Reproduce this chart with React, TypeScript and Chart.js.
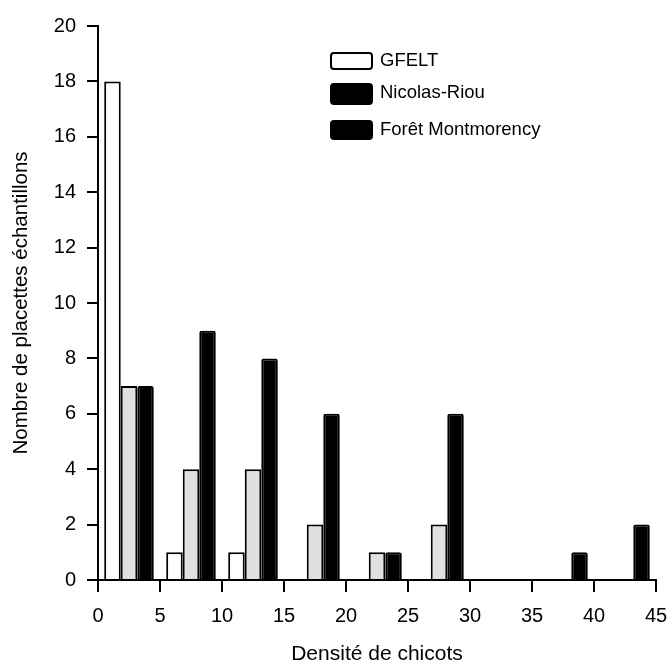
import React, { useEffect, useRef } from 'react';
import { Chart, registerables } from 'chart.js';

Chart.register(...registerables);

// ---- data ----
const binCenters = [2.5, 7.5, 12.5, 17.5, 22.5, 27.5, 32.5, 37.5, 42.5];
const seriesNames = ['GFELT', 'Nicolas-Riou', 'Forêt Montmorency'];
const gfelt = [18, 1, 1, 0, 0, 0, 0, 0, 0];
const nicolasRiou = [7, 4, 4, 2, 1, 2, 0, 0, 0];
const foretMontmorency = [7, 9, 8, 6, 1, 6, 0, 1, 2];
const xTickValues = [0, 5, 10, 15, 20, 25, 30, 35, 40, 45];
const yTickValues = [0, 2, 4, 6, 8, 10, 12, 14, 16, 18, 20];
const xTitle = 'Densité de chicots';
const yTitle = 'Nombre de placettes échantillons';

const FONT = "'Liberation Sans', Arial, Helvetica, sans-serif";
const barFills = ['#ffffff', '#e0e0e0', '#000000'];
const legendFills = ['#ffffff', '#000000', '#000000'];

const legendPlugin = {
  id: 'boxLegend',
  afterDraw(chart: any) {
    const ctx = chart.ctx as CanvasRenderingContext2D;
    const boxes = [
      { top: 53, h: 16, mid: 61 },
      { top: 84, h: 20, mid: 93 },
      { top: 121, h: 18, mid: 130 },
    ];
    ctx.save();
    seriesNames.forEach((name, i) => {
      const b = boxes[i];
      ctx.beginPath();
      (ctx as any).roundRect(331, b.top, 41, b.h, 3);
      ctx.fillStyle = legendFills[i];
      ctx.fill();
      ctx.lineWidth = 2;
      ctx.strokeStyle = '#000';
      ctx.stroke();
      ctx.fillStyle = '#000';
      ctx.font = `18.5px ${FONT}`;
      ctx.textAlign = 'left';
      ctx.textBaseline = 'middle';
      ctx.fillText(name, 380, b.mid);
    });
    ctx.restore();
  },
};

export default function App() {
  const ref = useRef<HTMLCanvasElement | null>(null);

  useEffect(() => {
    document.body.style.margin = '0';
    if (!ref.current) return;
    const series = [gfelt, nicolasRiou, foretMontmorency];
    const chart = new Chart(ref.current, {
      type: 'bar',
      data: {
        datasets: series.map((vals, i) => ({
          label: seriesNames[i],
          data: vals.map((v, k) => ({ x: binCenters[k], y: v })),
          backgroundColor: barFills[i],
          borderColor: '#000',
          borderWidth: 2,
          borderSkipped: 'start',
          borderRadius: i === 2 ? { topLeft: 2, topRight: 2, bottomLeft: 0, bottomRight: 0 } : 0,
          categoryPercentage: 0.8,
          barPercentage: 1.0,
        })),
      },
      options: {
        responsive: false,
        animation: false,
        devicePixelRatio: 1,
        color: '#000',
        layout: { padding: { left: 0, right: 14, top: 26, bottom: 0 } },
        plugins: {
          legend: { display: false },
          tooltip: { enabled: false },
        },
        scales: {
          x: {
            type: 'linear',
            min: 0,
            max: 45,
            offset: false,
            z: 1,
            afterBuildTicks: (scale: any) => {
              scale.ticks = xTickValues.map((v) => ({ value: v }));
            },
            afterFit: (scale: any) => {
              scale.height = 83;
              scale.paddingLeft = 0;
              scale.paddingRight = 0;
            },
            grid: {
              display: true,
              drawOnChartArea: false,
              drawTicks: true,
              tickLength: 12,
              color: '#000',
              lineWidth: 2,
              offset: false,
            },
            border: { display: true, color: '#000', width: 2 },
            ticks: {
              color: '#000',
              font: { family: FONT, size: 20 },
              padding: 12,
              maxRotation: 0,
              autoSkip: false,
            },
            title: {
              display: true,
              text: xTitle,
              color: '#000',
              font: { family: FONT, size: 21, lineHeight: 1 },
              padding: { top: 0, bottom: -1.5 },
            },
          },
          y: {
            type: 'linear',
            min: 0,
            max: 20,
            z: 1,
            afterBuildTicks: (scale: any) => {
              scale.ticks = yTickValues.map((v) => ({ value: v }));
            },
            afterFit: (scale: any) => {
              scale.width = 98;
              scale.paddingTop = 0;
              scale.paddingBottom = 0;
            },
            grid: {
              display: true,
              drawOnChartArea: false,
              drawTicks: true,
              tickLength: 11,
              color: '#000',
              lineWidth: 2,
            },
            border: { display: true, color: '#000', width: 2 },
            ticks: {
              color: '#000',
              font: { family: FONT, size: 20 },
              padding: 11,
              autoSkip: false,
            },
            title: {
              display: true,
              text: yTitle,
              color: '#000',
              font: { family: FONT, size: 20.5 },
              padding: { top: 9, bottom: 0 },
            },
          },
        },
      },
      plugins: [legendPlugin],
    } as any);
    return () => chart.destroy();
  }, []);

  return (
    <div style={{ position: 'absolute', left: 0, top: 0, width: 670, height: 663 }}>
      <canvas ref={ref} width={670} height={663} />
    </div>
  );
}
